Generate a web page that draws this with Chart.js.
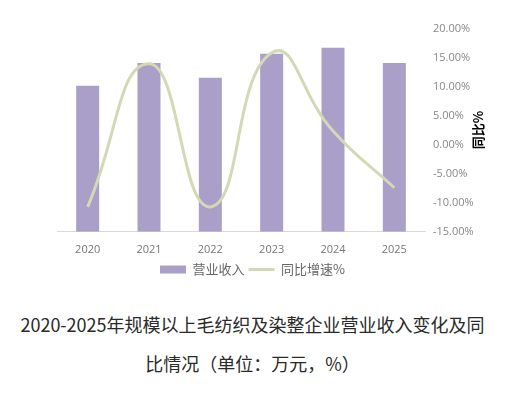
<!DOCTYPE html>
<html>
<head>
<meta charset="utf-8">
<script src="https://cdn.jsdelivr.net/npm/chart.js@4.4.1/dist/chart.umd.min.js"></script>
<style>
  body { margin: 0; background: #fff; width: 505px; height: 395px; overflow: hidden; }
  .wrap { position: relative; width: 505px; height: 300px; }
  .cap { position: absolute; left: 0; width: 505px; text-align: center; font-family: "Noto Sans CJK SC", sans-serif; font-size: 18px; color: #2a2a2a; white-space: nowrap; }
</style>
</head>
<body>
<div class="wrap"><canvas id="mainChart" width="505" height="300"></canvas></div>
<div class="cap" style="top:311px">2020-2025年规模以上毛纺织及染整企业营业收入变化及同</div>
<div class="cap" style="top:350px">比情况（单位：万元，%）</div>
<script>
const years = ['2020', '2021', '2022', '2023', '2024', '2025'];
const revenue = [144, 166.5, 152, 175.5, 181.5, 166.5];
const growth = [-10.7, 14.0, -10.7, 15.9, 2.4, -7.4];

const fontFam = '"Open Sans", "Noto Sans CJK SC", sans-serif';

// right axis title reads bottom-to-top in the original
const sideTitle = {
  id: 'sideTitle',
  afterDraw(chart) {
    const c = chart.ctx;
    c.save();
    c.translate(478, 130);
    c.rotate(-Math.PI / 2);
    c.font = 'bold 13px "Noto Sans CJK SC", sans-serif';
    c.fillStyle = '#000';
    c.textAlign = 'center';
    c.textBaseline = 'middle';
    c.fillText('同比%', 0, 0);
    c.restore();
  }
};

const ctx = document.getElementById('mainChart').getContext('2d');
const mainChart = new Chart(ctx, {
  type: 'bar',
  data: {
    labels: years,
    datasets: [
      {
        label: '营业收入',
        data: revenue,
        backgroundColor: '#a99fc8',
        borderWidth: 0,
        barPercentage: 0.375,
        categoryPercentage: 1,
        yAxisID: 'y',
        order: 1,
        pointStyle: 'rect',
      },
      {
        type: 'line',
        label: '同比增速%',
        data: growth,
        borderColor: '#d3d9b4',
        backgroundColor: '#d3d9b4',
        borderWidth: 3,
        tension: 0.5,
        pointRadius: 0,
        yAxisID: 'y1',
        order: 0,
        pointStyle: 'line',
      },
    ],
  },
  options: {
    responsive: false,
    animation: false,
    devicePixelRatio: 1,
    layout: { padding: { left: 0, top: 29, right: 0, bottom: 14 } },
    scales: {
      x: {
        grid: { display: false },
        border: { color: '#d9d9d9' },
        ticks: { color: '#777', font: { family: fontFam, size: 11 }, padding: 3, maxRotation: 0 },
      },
      // left axis is not shown in the original, only keeps the space
      y: {
        min: 0,
        max: 200,
        grid: { display: false, drawTicks: false },
        border: { display: false },
        ticks: { display: false },
        afterFit: (scale) => { scale.width = 57; },
      },
      y1: {
        position: 'right',
        min: -15,
        max: 20,
        grid: { display: false, drawTicks: false },
        border: { display: false },
        ticks: {
          stepSize: 5,
          padding: 8,
          color: '#888',
          font: { family: fontFam, size: 11 },
          callback: (v) => v.toFixed(2) + '%',
        },
        afterFit: (scale) => { scale.width = 80; },
      },
    },
    plugins: {
      tooltip: { enabled: false },
      legend: {
        position: 'bottom',
        reverse: true,
        labels: {
          usePointStyle: true,
          pointStyleWidth: 26,
          boxHeight: 8,
          padding: 4,
          color: '#666',
          font: { family: '"Noto Sans CJK SC", sans-serif', size: 13 },
        },
      },
    },
  },
  plugins: [sideTitle],
});
</script>
</body>
</html>
